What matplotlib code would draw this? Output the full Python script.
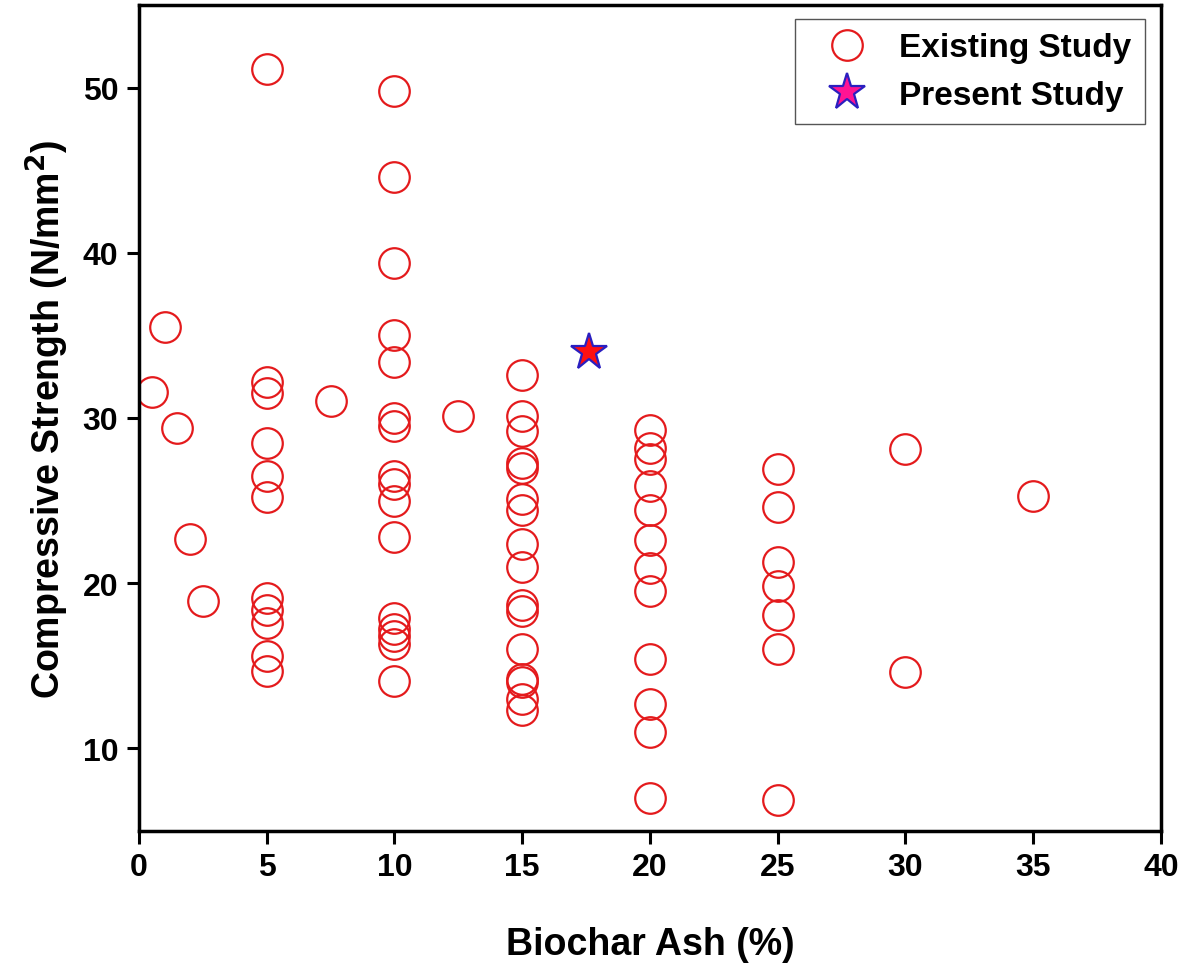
import matplotlib
matplotlib.use('Agg')
import matplotlib.pyplot as plt
from matplotlib.lines import Line2D

plt.rcParams['font.family'] = ['Liberation Sans', 'DejaVu Sans']
plt.rcParams['font.weight'] = 'bold'

# existing studies: biochar ash (%) and compressive strength (N/mm2)
ash_pct = ([0.5, 1, 1.5, 2, 2.5]
           + [5] * 11
           + [7.5]
           + [10] * 16
           + [12.5]
           + [15] * 16
           + [20] * 12
           + [25] * 7
           + [30] * 2
           + [35])
strength = ([31.6, 35.5, 29.4, 22.7, 18.9]
            + [51.1, 32.2, 31.5, 28.5, 26.5, 25.2, 19.1, 18.4, 17.6, 15.6, 14.7]
            + [31.0]
            + [49.8, 44.6, 39.4, 35.0, 33.4, 30.0, 29.5, 26.5, 26.0, 25.0, 22.8,
               17.9, 17.2, 16.8, 16.3, 14.1]
            + [30.1]
            + [32.6, 30.1, 29.2, 27.3, 27.0, 25.1, 24.4, 22.4, 21.0, 18.7, 18.3,
               16.0, 14.2, 14.0, 13.0, 12.3]
            + [29.3, 28.2, 27.5, 25.9, 24.4, 22.6, 20.9, 19.5, 15.4, 12.7, 11.0, 7.0]
            + [26.9, 24.6, 21.3, 19.8, 18.1, 16.0, 6.9]
            + [28.1, 14.6]
            + [25.3])

present_ash = [17.6]
present_strength = [34.0]

fig = plt.figure(figsize=(11.91, 9.70), dpi=100)
ax = fig.add_axes([0.1167, 0.1423, 0.8581, 0.8515])

ax.plot(ash_pct, strength, linestyle='none', marker='o', markersize=22,
        markerfacecolor='none', markeredgecolor='#e41a1c', markeredgewidth=1.6)
ax.plot(present_ash, present_strength, linestyle='none', marker='*', markersize=28,
        markerfacecolor='#ff1010', markeredgecolor='#2a1fc0', markeredgewidth=1.6)

ax.set_xlim(0, 40)
ax.set_ylim(5, 55)
ax.set_xticks(range(0, 41, 5))
ax.set_yticks(range(10, 51, 10))
ax.tick_params(axis='both', which='major', labelsize=23, width=2.2, length=9,
               direction='out', pad=6)
for lab in ax.get_xticklabels() + ax.get_yticklabels():
    lab.set_fontweight('bold')
for sp in ax.spines.values():
    sp.set_linewidth(2.5)

ax.set_xlabel('Biochar Ash (%)', fontsize=27, fontweight='bold', labelpad=32)
ax.set_ylabel('Compressive Strength (N/mm$\\mathbf{^2}$)', fontsize=27,
              fontweight='bold', labelpad=8)

handles = [
    Line2D([], [], linestyle='none', marker='o', markersize=22,
           markerfacecolor='none', markeredgecolor='#e41a1c', markeredgewidth=1.6),
    Line2D([], [], linestyle='none', marker='*', markersize=28,
           markerfacecolor='#ff1493', markeredgecolor='#2a1fc0', markeredgewidth=1.6),
]
leg = ax.legend(handles, ['Existing Study', 'Present Study'], loc='upper right',
                prop={'size': 24, 'weight': 'bold'}, fancybox=False,
                edgecolor='#555555', framealpha=1, handletextpad=0.42,
                handlelength=2.3, borderpad=0.4, labelspacing=0.5,
                borderaxespad=0, bbox_to_anchor=(0.984, 0.983))
leg.get_frame().set_linewidth(1.0)

fig.savefig('out.png', dpi=100)
